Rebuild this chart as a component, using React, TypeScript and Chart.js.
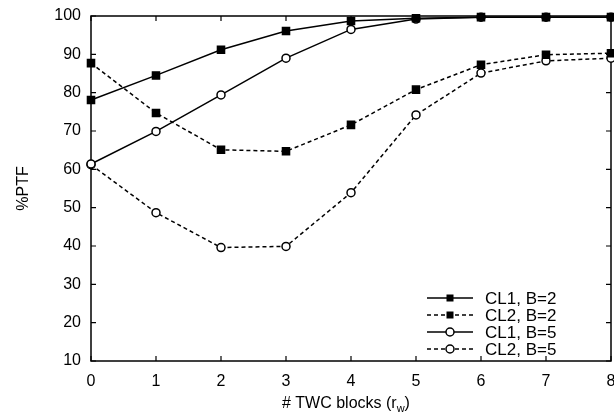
import React, { useEffect, useRef } from 'react';
import { Chart, registerables } from 'chart.js';

Chart.register(...registerables);

const X_LABELS = ['0', '1', '2', '3', '4', '5', '6', '7', '8'];
const Y_TICKS = [10, 20, 30, 40, 50, 60, 70, 80, 90, 100];
const CL1_B2 = [78.1, 84.5, 91.2, 96.1, 98.7, 99.4, 99.7, 99.7, 99.7];
const CL2_B2 = [87.7, 74.7, 65.1, 64.7, 71.6, 80.8, 87.3, 89.9, 90.3];
const CL1_B5 = [61.4, 69.9, 79.4, 89.0, 96.5, 99.2, 99.7, 99.7, 99.7];
const CL2_B5 = [61.2, 48.7, 39.6, 39.9, 53.9, 74.2, 85.1, 88.3, 89.0];
const SERIES_NAMES = ['CL1, B=2', 'CL2, B=2', 'CL1, B=5', 'CL2, B=5'];

const FONT = '"Liberation Sans", Arial, Helvetica, sans-serif';
const DASH = [4, 3];

const boxPlugin = {
  id: 'boxTicks',
  beforeDatasetsDraw(chart: any) {
    const { ctx, chartArea } = chart;
    const { left, right, top, bottom } = chartArea;
    const xs = chart.scales.x;
    const ys = chart.scales.y;
    const tl = 5;
    ctx.save();
    ctx.strokeStyle = '#000';
    ctx.lineWidth = 1.5;
    ctx.setLineDash([]);
    ctx.strokeRect(left, top, right - left, bottom - top);
    ctx.lineWidth = 1.2;
    ctx.beginPath();
    Y_TICKS.forEach((v) => {
      const y = ys.getPixelForValue(v);
      ctx.moveTo(left, y);
      ctx.lineTo(left + tl, y);
      ctx.moveTo(right, y);
      ctx.lineTo(right - tl, y);
    });
    X_LABELS.forEach((_, i) => {
      const x = xs.getPixelForValue(i);
      ctx.moveTo(x, bottom);
      ctx.lineTo(x, bottom - tl);
      ctx.moveTo(x, top);
      ctx.lineTo(x, top + tl);
    });
    ctx.stroke();
    ctx.restore();
  },
  afterDraw(chart: any) {
    const { ctx, chartArea } = chart;
    const { right, bottom, top } = chartArea;
    ctx.save();
    // legend
    chart.data.datasets.forEach((ds: any, i: number) => {
      const y = bottom - 63 + 17 * i;
      const x0 = right - 184;
      const x1 = right - 138;
      const xm = (x0 + x1) / 2;
      ctx.strokeStyle = '#000';
      ctx.lineWidth = ds.borderWidth;
      ctx.setLineDash(ds.borderDash || []);
      ctx.beginPath();
      ctx.moveTo(x0, y);
      ctx.lineTo(x1, y);
      ctx.stroke();
      ctx.setLineDash([]);
      if (ds.pointStyle === 'rect') {
        const s = 7;
        ctx.fillStyle = '#000';
        ctx.fillRect(xm - s / 2, y - s / 2, s, s);
      } else {
        ctx.beginPath();
        ctx.arc(xm, y, ds.pointRadius, 0, Math.PI * 2);
        ctx.fillStyle = '#fff';
        ctx.fill();
        ctx.lineWidth = ds.pointBorderWidth;
        ctx.stroke();
      }
      ctx.fillStyle = '#000';
      ctx.font = `17px ${FONT}`;
      ctx.textBaseline = 'middle';
      ctx.textAlign = 'left';
      ctx.fillText(ds.label, right - 126, y + 1);
    });
    // x title with subscript
    ctx.fillStyle = '#000';
    ctx.textBaseline = 'alphabetic';
    ctx.textAlign = 'left';
    const main = '# TWC blocks (r';
    ctx.font = `16px ${FONT}`;
    let x = 282;
    const base = 408;
    ctx.fillText(main, x, base);
    x += ctx.measureText(main).width;
    ctx.font = `11px ${FONT}`;
    ctx.fillText('w', x, base + 4);
    x += ctx.measureText('w').width;
    ctx.font = `16px ${FONT}`;
    ctx.fillText(')', x, base);
    // y title
    ctx.save();
    ctx.translate(24, (top + bottom) / 2);
    ctx.rotate(-Math.PI / 2);
    ctx.textAlign = 'center';
    ctx.textBaseline = 'middle';
    ctx.font = `16px ${FONT}`;
    ctx.fillText('%PTF', 0, 0);
    ctx.restore();
    ctx.restore();
  },
};

export default function App() {
  const ref = useRef<HTMLCanvasElement | null>(null);
  useEffect(() => {
    if (!ref.current) return;
    const mk = (label: string, data: number[], dashed: boolean, square: boolean) => ({
      label,
      data,
      borderColor: '#000',
      backgroundColor: square ? '#000' : '#fff',
      borderWidth: 1.5,
      borderDash: dashed ? DASH : [],
      pointStyle: square ? 'rect' : 'circle',
      pointRadius: square ? 5 : 4,
      pointBorderWidth: 1.5,
      pointBorderColor: '#000',
      pointBackgroundColor: square ? '#000' : '#fff',
      tension: 0,
      clip: false as any,
    });
    const chart = new Chart(ref.current, {
      type: 'line',
      data: {
        labels: X_LABELS,
        datasets: [
          mk(SERIES_NAMES[0], CL1_B2, false, true),
          mk(SERIES_NAMES[1], CL2_B2, true, true),
          mk(SERIES_NAMES[2], CL1_B5, false, false),
          mk(SERIES_NAMES[3], CL2_B5, true, false),
        ] as any,
      },
      options: {
        responsive: false,
        animation: false,
        layout: { padding: { top: 16, right: 9, left: 0, bottom: 0 } },
        plugins: { legend: { display: false }, tooltip: { enabled: false } },
        scales: {
          x: {
            type: 'category',
            offset: false,
            grid: { display: false, drawTicks: false },
            border: { display: false },
            ticks: { color: '#000', font: { family: FONT, size: 16 }, padding: 11, maxRotation: 0, autoSkip: false },
            afterFit: (s: any) => {
              s.height = 55;
              s.paddingLeft = 0;
              s.paddingRight = 0;
            },
          },
          y: {
            min: 10,
            max: 100,
            grid: { display: false, drawTicks: false },
            border: { display: false },
            ticks: { color: '#000', font: { family: FONT, size: 16 }, padding: 10, stepSize: 10 },
            afterFit: (s: any) => {
              s.width = 91;
              s.paddingTop = 0;
              s.paddingBottom = 0;
            },
          },
        },
      },
      plugins: [boxPlugin],
    });
    return () => chart.destroy();
  }, []);
  return (
    <div style={{ position: 'fixed', left: 0, top: 0, width: 620, height: 416, background: '#fff' }}>
      <canvas ref={ref} width={620} height={416} />
    </div>
  );
}
